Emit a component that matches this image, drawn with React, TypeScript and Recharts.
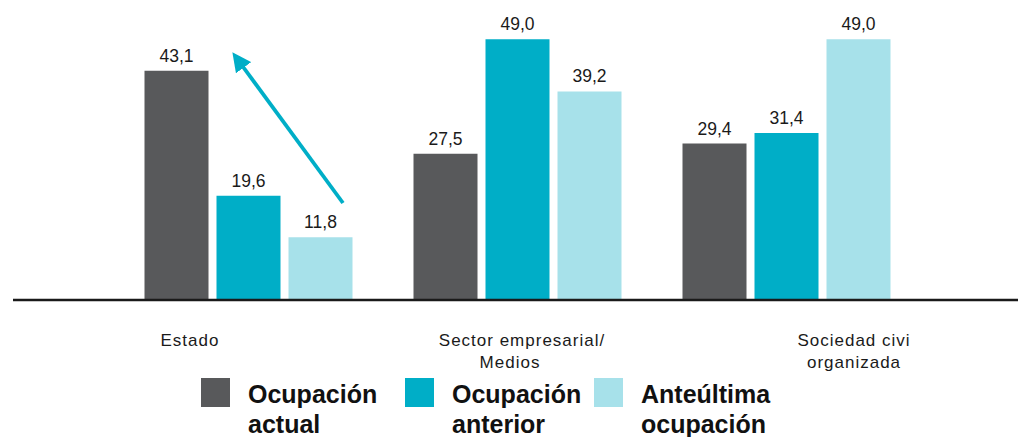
import { Bar, BarChart, LabelList, XAxis, YAxis } from "recharts";

const categories = ["Estado", "Sector empresarial/Medios", "Sociedad civi organizada"];
const tickLines = [["Estado"], ["Sector empresarial/", "Medios"], ["Sociedad civi", "organizada"]];
const actual = [43.1, 27.5, 29.4];
const anterior = [19.6, 49.0, 31.4];
const anteultima = [11.8, 39.2, 49.0];
const seriesNames = [["Ocupación", "actual"], ["Ocupación", "anterior"], ["Anteúltima", "ocupación"]];

const COLORS = ["#58595b", "#00aec7", "#a7e1ea"];
const W = 1018;
const H = 437;

const data = categories.map((c, i) => ({
  name: c,
  actual: actual[i],
  anterior: anterior[i],
  anteultima: anteultima[i],
}));

const fmt = (v: any) => Number(v).toFixed(1).replace(".", ",");

// label offsets per group (the source places them off-centre)
const tickShift: number[][] = [[-58], [5, -7], [68, 68]];

function Tick(props: any) {
  const { x, y, index } = props;
  const lines = tickLines[index] || [];
  return (
    <g>
      {lines.map((l, k) => (
        <text
          key={k}
          x={x + (tickShift[index]?.[k] ?? 0)}
          y={y + 38 + k * 22}
          textAnchor="middle"
          fontFamily="'Liberation Sans', Arial, sans-serif"
          fontSize={17}
          letterSpacing={1}
          fill="#1a1a1a"
        >
          {l}
        </text>
      ))}
    </g>
  );
}

const labelStyle = {
  fontFamily: "'Liberation Sans', Arial, sans-serif",
  fontSize: 17.5,
  fill: "#1a1a1a",
};

export default function App() {
  const keys = ["actual", "anterior", "anteultima"];
  const legendX = [201, 405, 594];
  return (
    <div style={{ position: "absolute", left: 0, top: 0, width: W, height: H, background: "#fff" }}>
      <BarChart
        width={W}
        height={H}
        data={data}
        margin={{ top: 34, right: 0, bottom: 0, left: 13 }}
        barSize={64}
        barGap={8}
      >
        <XAxis
          dataKey="name"
          height={137}
          padding={{ left: 100.5, right: 97.5 }}
          axisLine={{ stroke: "#1a1a1a", strokeWidth: 2.6 }}
          tickLine={false}
          tick={<Tick />}
          interval={0}
        />
        <YAxis hide domain={[0, 50]} />
        {keys.map((k, i) => (
          <Bar key={k} dataKey={k} fill={COLORS[i]} isAnimationActive={false}>
            <LabelList dataKey={k} position="top" offset={9} formatter={fmt} style={labelStyle} />
          </Bar>
        ))}
      </BarChart>
      <svg
        width={W}
        height={H}
        style={{ position: "absolute", left: 0, top: 0, pointerEvents: "none" }}
      >
        <defs>
          <marker
            id="ah"
            markerWidth="5"
            markerHeight="5"
            refX="2.5"
            refY="2.5"
            orient="auto"
            markerUnits="strokeWidth"
          >
            <path d="M0,0 L5,2.5 L0,5 z" fill={COLORS[1]} />
          </marker>
        </defs>
        <line
          x1={343}
          y1={203}
          x2={238}
          y2={60}
          stroke={COLORS[1]}
          strokeWidth={3.8}
          markerEnd="url(#ah)"
        />
        {seriesNames.map((lines, i) => (
          <g key={i}>
            <rect x={legendX[i]} y={378} width={29} height={29} fill={COLORS[i]} />
            {lines.map((l, k) => (
              <text
                key={k}
                x={legendX[i] + 47}
                y={403 + k * 30}
                fontFamily="'Liberation Sans', Arial, sans-serif"
                fontWeight="bold"
                fontSize={25}
                fill="#111"
              >
                {l}
              </text>
            ))}
          </g>
        ))}
      </svg>
    </div>
  );
}
